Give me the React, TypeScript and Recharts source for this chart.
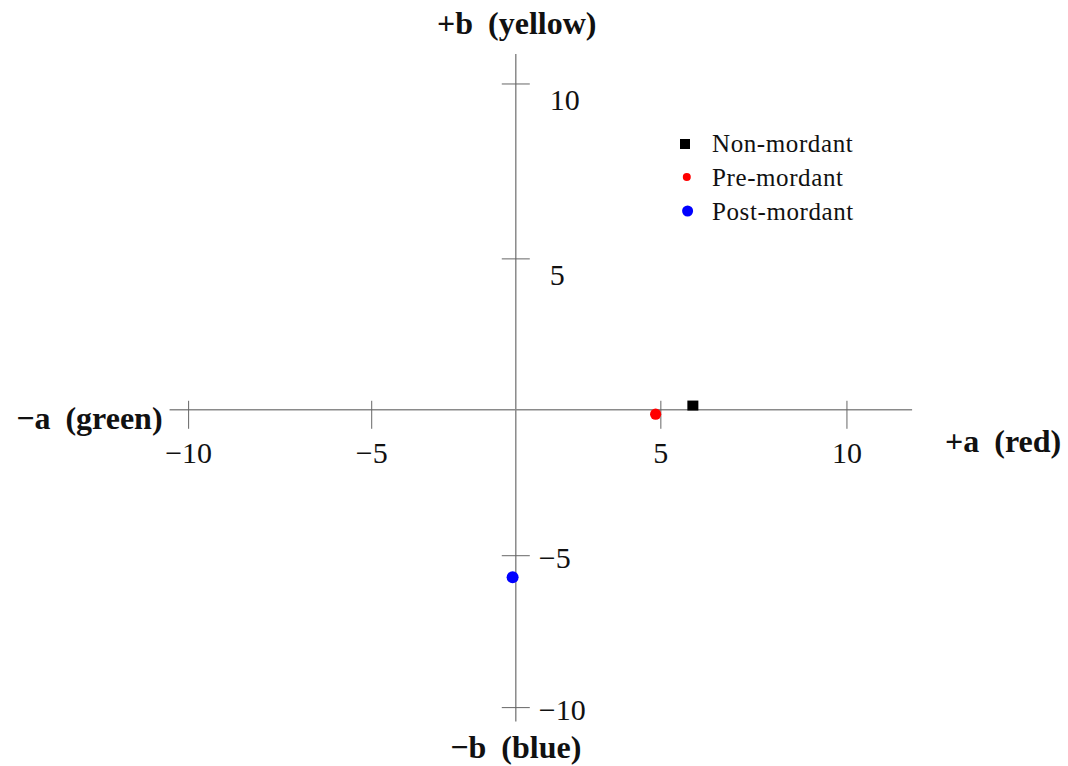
import React from "react";
import {
  ScatterChart,
  Scatter,
  XAxis,
  YAxis,
  ReferenceLine,
  ReferenceDot,
  Legend,
} from "recharts";

// CIELAB a*/b* readings
const nonMordant = [{ a: 5.86, b: 0.14 }];
const preMordant = [{ a: 4.82, b: -0.15 }];
const postMordant = [{ a: -0.11, b: -5.71 }];

const aTicks = [-10, -5, 5, 10];
const bTicks = [-10, -5, 5, 10];

// where the drawn axis lines stop
const aAxisEnds = [-10.52, 11.75];
const bAxisEnds = [-10.46, 10.86];

const FONT = '"Liberation Serif", "DejaVu Serif", serif';
const AXIS_COLOR = "#8a8a8a";

// the original figure is hand-spaced: ticks are not evenly apart,
// so the scale follows those spacings (value -> px from origin)
const X_WARP: [number, number][] = [
  [-10, -327],
  [-5, -144],
  [0, 0],
  [5, 145],
  [10, 331],
];
const Y_WARP: [number, number][] = [
  [-10, -298],
  [-5, -146],
  [0, 0],
  [5, 151],
  [10, 326],
];

function warp(knots: [number, number][], v: number) {
  const n = knots.length;
  let i = 0;
  if (v >= knots[n - 1][0]) i = n - 2;
  else if (v > knots[0][0]) while (v > knots[i + 1][0]) i++;
  const [x0, y0] = knots[i];
  const [x1, y1] = knots[i + 1];
  return y0 + ((v - x0) * (y1 - y0)) / (x1 - x0);
}

function makeWarpScale(knots: [number, number][]): any {
  let dom = [0, 1];
  let rng = [0, 1];
  const s: any = (v: number) => {
    const a = warp(knots, dom[0]);
    const b = warp(knots, dom[dom.length - 1]);
    return rng[0] + ((warp(knots, v) - a) / (b - a)) * (rng[rng.length - 1] - rng[0]);
  };
  s.domain = (d?: number[]) => {
    if (d === undefined) return dom.slice();
    dom = d.map(Number);
    return s;
  };
  s.range = (r?: number[]) => {
    if (r === undefined) return rng.slice();
    rng = r.map(Number);
    return s;
  };
  s.copy = () => makeWarpScale(knots).domain(dom).range(rng);
  s.ticks = () => knots.map((k) => k[0]);
  s.invert = (p: number) => {
    // numeric inverse, good enough for a static chart
    let lo = dom[0];
    let hi = dom[dom.length - 1];
    for (let i = 0; i < 50; i++) {
      const mid = (lo + hi) / 2;
      if ((s(mid) - p) * (s(hi) - s(lo)) < 0) lo = mid;
      else hi = mid;
    }
    return (lo + hi) / 2;
  };
  return s;
}

const xScale = makeWarpScale(X_WARP);
const yScale = makeWarpScale(Y_WARP);

const fmt = (v: number) => String(v).replace("-", "\u2212");

const SERIES = [
  { name: "Non-mordant", data: nonMordant, color: "#000000", kind: "square" },
  { name: "Pre-mordant", data: preMordant, color: "#ff0000", kind: "dot", r: 5.6 },
  { name: "Post-mordant", data: postMordant, color: "#0000ff", kind: "dot", r: 6 },
];

const LEGEND_ICON_R = [0, 4, 5.5];

function xTickShape(v: number) {
  return (p: any) => (
    <g>
      <line x1={p.cx} y1={p.cy - 9} x2={p.cx} y2={p.cy + 19} stroke="#666" strokeWidth={1} />
      <text
        x={p.cx}
        y={p.cy + 53}
        textAnchor="middle"
        fontFamily={FONT}
        fontSize={30}
        fill="#111"
      >
        {fmt(v)}
      </text>
    </g>
  );
}

function yTickShape(v: number) {
  return (p: any) => (
    <g>
      <line x1={p.cx - 14} y1={p.cy} x2={p.cx + 14} y2={p.cy} stroke="#666" strokeWidth={1} />
      <text
        x={p.cx + (v > 0 ? 34 : 23)}
        y={p.cy + (v > 0 ? 26 : 12)}
        textAnchor="start"
        fontFamily={FONT}
        fontSize={30}
        fill="#111"
      >
        {fmt(v)}
      </text>
    </g>
  );
}

function titleShape(main: string, rest: string, dx: number, dy: number, anchor: string) {
  return (p: any) => (
    <text
      x={p.cx + dx}
      y={p.cy + dy}
      textAnchor={anchor}
      fontFamily={FONT}
      fontSize={32}
      fontWeight="bold"
      fill="#111"
    >
      <tspan>{main} </tspan>
      <tspan dx={7}>{rest}</tspan>
    </text>
  );
}

function LegendBox() {
  return (
    <svg width={220} height={110} style={{ overflow: "visible" }}>
      {SERIES.map((s, i) => {
        const cy = 20 + i * 34;
        return (
          <g key={s.name}>
            {s.kind === "square" ? (
              <rect x={6} y={cy - 5} width={10} height={10} fill={s.color} />
            ) : (
              <circle cx={12 + i * 0.8} cy={cy - 1} r={LEGEND_ICON_R[i]} fill={s.color} />
            )}
            <text
              x={38}
              y={cy + 8}
              fontFamily={FONT}
              fontSize={25}
              letterSpacing={0.6}
              fill="#111"
            >
              {s.name}
            </text>
          </g>
        );
      })}
    </svg>
  );
}

const squareShape = (p: any) => (
  <rect x={p.cx - 5.5} y={p.cy - 5} width={11} height={10} fill="#000000" />
);
const dotShape = (r: number, color: string) => (p: any) => (
  <circle cx={p.cx} cy={p.cy} r={r} fill={color} />
);

export default function App() {
  return (
    <div
      style={{
        position: "absolute",
        left: 0,
        top: 0,
        width: 1068,
        height: 766,
        background: "#ffffff",
      }}
    >
      <ScatterChart
        width={1068}
        height={766}
        margin={{ top: 49, right: 128, bottom: 28, left: 152 }}
      >
        <XAxis
          type="number"
          dataKey="a"
          domain={[-11, 12.5]}
          scale={xScale}
          allowDataOverflow
          hide
        />
        <YAxis
          type="number"
          dataKey="b"
          domain={[-11, 11]}
          scale={yScale}
          allowDataOverflow
          hide
        />

        <ReferenceLine
          segment={[
            { x: aAxisEnds[0], y: 0 },
            { x: aAxisEnds[1], y: 0 },
          ]}
          stroke={AXIS_COLOR}
          strokeWidth={1.5}
        />
        <ReferenceLine
          segment={[
            { x: 0, y: bAxisEnds[0] },
            { x: 0, y: bAxisEnds[1] },
          ]}
          stroke={AXIS_COLOR}
          strokeWidth={1.5}
        />

        {aTicks.map((v) => (
          <ReferenceDot key={"a" + v} x={v} y={0} r={1} shape={xTickShape(v)} />
        ))}
        {bTicks.map((v) => (
          <ReferenceDot key={"b" + v} x={0} y={v} r={1} shape={yTickShape(v)} />
        ))}

        <ReferenceDot x={0} y={bAxisEnds[1]} r={1} shape={titleShape("+b", "(yellow)", 1, -20, "middle")} />
        <ReferenceDot x={0} y={bAxisEnds[0]} r={1} shape={titleShape("\u2212b", "(blue)", 0, 36, "middle")} />
        <ReferenceDot x={aAxisEnds[0]} y={0} r={1} shape={titleShape("\u2212a", "(green)", -7, 19, "end")} />
        <ReferenceDot x={aAxisEnds[1]} y={0} r={1} shape={titleShape("+a", "(red)", 33, 42, "start")} />

        {SERIES.map((s) => (
          <Scatter
            key={s.name}
            name={s.name}
            data={s.data}
            fill={s.color}
            isAnimationActive={false}
            shape={s.kind === "square" ? squareShape : dotShape(s.r as number, s.color)}
          />
        ))}

        <Legend
          layout="vertical"
          align="center"
          verticalAlign="middle"
          wrapperStyle={{ left: 674, top: 124, width: 220, height: 110 }}
          content={() => <LegendBox />}
        />
      </ScatterChart>
    </div>
  );
}
